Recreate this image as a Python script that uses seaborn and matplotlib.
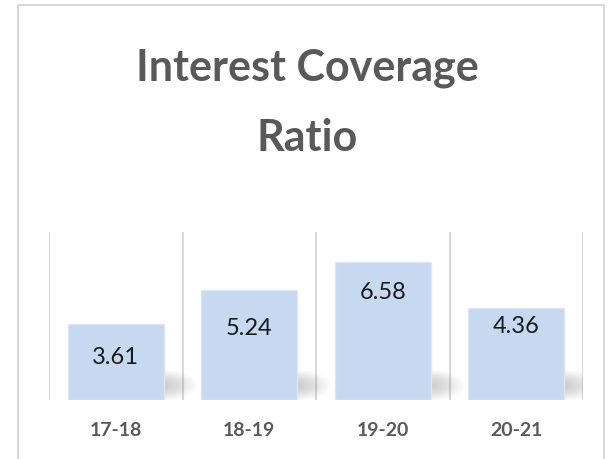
import numpy as np
import pandas as pd
import seaborn as sns
import matplotlib.pyplot as plt
from matplotlib.patches import Rectangle, Ellipse

periods = ['17-18', '18-19', '19-20', '20-21']
ratios = [3.61, 5.24, 6.58, 4.36]

df = pd.DataFrame({'period': periods, 'ratio': ratios})

sns.set_theme(style='white')
plt.rcParams['font.family'] = ['Lato', 'DejaVu Sans']

fig = plt.figure(figsize=(6.15, 4.59), dpi=100)
ax = fig.add_axes([0.0797, 0.1285, 0.8683, 0.3661])

sns.barplot(data=df, x='period', y='ratio', color='#c6d9f1', saturation=1,
            width=0.72, edgecolor='#dce7f5', linewidth=1, ax=ax, zorder=3)

# sombra difusa a la derecha de cada barra
for bar in ax.patches[:len(ratios)]:
    x1 = bar.get_x() + bar.get_width()
    for i in range(16):
        f = 1 - i / 16
        ax.add_patch(Ellipse((x1 - 0.03, 0.7), 0.56 * f, 1.5 * f,
                             color='#808080', alpha=0.03, lw=0, zorder=2))

# posicion de las etiquetas dentro de la barra (pts bajo el tope)
label_pad = [-24, -28, -22, -13]
for bar, val, pad in zip(ax.patches, ratios, label_pad):
    ax.annotate(f'{val:.2f}', (bar.get_x() + bar.get_width() / 2, bar.get_height()),
                xytext=(0, pad), textcoords='offset points', ha='center', va='center',
                fontsize=17, color='#1a1a1a', zorder=4)

ax.set_ylim(0, 8)
ax.set_xlim(-0.5, len(periods) - 0.5)
ax.set_yticks([])
ax.set_xticks(np.arange(-0.5, len(periods)), minor=True)
ax.grid(True, axis='x', which='minor', color='#d9d9d9', linewidth=1.5, zorder=1)
ax.grid(False, axis='x', which='major')
ax.set_axisbelow(True)
ax.tick_params(axis='x', which='both', length=0, pad=16, labelsize=14, labelcolor='#595959')
for lab in ax.get_xticklabels():
    lab.set_fontweight('bold')
ax.set_xlabel('')
ax.set_ylabel('')
for s in ax.spines.values():
    s.set_visible(False)

# borde exterior del grafico
fig.patches.append(Rectangle((18 / 615, -0.01), 586 / 615, 1 - 5 / 459 + 0.01,
                             transform=fig.transFigure, fill=False,
                             edgecolor='#d9d9d9', linewidth=1.5))

fig.text(0.5, 1 - 80 / 459, 'Interest Coverage', ha='center', va='baseline',
         fontsize=31, fontweight='bold', color='#595959')
fig.text(0.5, 1 - 151 / 459, 'Ratio', ha='center', va='baseline',
         fontsize=31, fontweight='bold', color='#595959')

fig.savefig('out.png', dpi=100)
